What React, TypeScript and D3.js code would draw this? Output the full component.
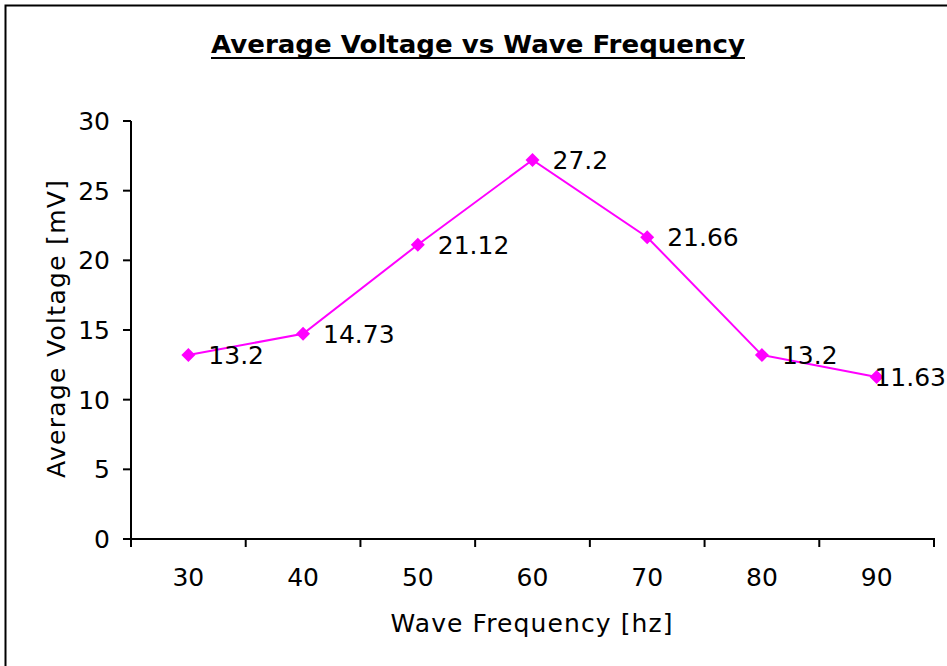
import React from "react";
import * as d3 from "d3";

const categories = ["30", "40", "50", "60", "70", "80", "90"];
const voltages = [13.2, 14.73, 21.12, 27.2, 21.66, 13.2, 11.63];
const dataLabels = ["13.2", "14.73", "21.12", "27.2", "21.66", "13.2", "11.63"];
const yTicks = [0, 5, 10, 15, 20, 25, 30];

const W = 947;
const H = 666;
const FONT = "'DejaVu Sans', Verdana, sans-serif";
const FS = 25;

function estWidth(s: string, fs: number) {
  let w = 0;
  for (const ch of s) w += ch === "." ? 0.318 : 0.636;
  return w * fs;
}

export default function App() {
  const left = 131;
  const right = 934;
  const top = 121;
  const bottom = 539;

  const x = d3.scaleBand<string>().domain(categories).range([left, right]).padding(0);
  const y = d3.scaleLinear().domain([0, 30]).range([bottom, top]);

  const line = d3
    .line<number>()
    .x((_, i) => (x(categories[i]) as number) + x.bandwidth() / 2)
    .y((d) => y(d));

  const boundaries = categories.map((c) => x(c) as number).concat([right]);

  return (
    <svg
      width={W}
      height={H}
      style={{ position: "absolute", left: 0, top: 0, background: "#fff" }}
      fontFamily={FONT}
    >
      <rect x={0} y={0} width={W} height={H} fill="#fff" />
      <rect x={5.5} y={5.5} width={1200} height={1200} fill="none" stroke="#000" strokeWidth={2} />

      <text
        x={478}
        y={53}
        textAnchor="middle"
        fontSize={25}
        fontWeight="bold"
        textLength={534}
        lengthAdjust="spacingAndGlyphs"
      >
        Average Voltage vs Wave Frequency
      </text>
      <line x1={211} x2={745} y1={58} y2={58} stroke="#000" strokeWidth={2} />

      {/* Y axis */}
      <line x1={left} x2={left} y1={top} y2={bottom + 8} stroke="#000" strokeWidth={2} />
      {yTicks.map((t) => (
        <g key={t}>
          <line x1={left - 8} x2={left} y1={y(t)} y2={y(t)} stroke="#000" strokeWidth={2} />
          <text x={110} y={y(t)} dy="0.36em" textAnchor="end" fontSize={FS}>
            {t}
          </text>
        </g>
      ))}

      {/* X axis */}
      <line x1={left - 8} x2={right + 1} y1={bottom} y2={bottom} stroke="#000" strokeWidth={2} />
      {boundaries.map((b, i) => (
        <line key={i} x1={b} x2={b} y1={bottom} y2={bottom + 8} stroke="#000" strokeWidth={2} />
      ))}
      {categories.map((c) => (
        <text key={c} x={(x(c) as number) + x.bandwidth() / 2} y={586} textAnchor="middle" fontSize={FS}>
          {c}
        </text>
      ))}

      <text x={531.5} y={632} textAnchor="middle" fontSize={FS} textLength={282} lengthAdjust="spacing">
        Wave Frequency [hz]
      </text>
      <text
        transform={`translate(65,329) rotate(-90)`}
        textAnchor="middle"
        fontSize={FS}
        textLength={298}
        lengthAdjust="spacing"
      >
        Average Voltage [mV]
      </text>

      {/* Series */}
      <path d={line(voltages) || ""} fill="none" stroke="#FF00FF" strokeWidth={2} />
      {voltages.map((v, i) => {
        const cx = (x(categories[i]) as number) + x.bandwidth() / 2;
        const cy = y(v);
        const r = 7;
        const wLab = estWidth(dataLabels[i], FS);
        let lx = cx + 20;
        if (lx + wLab > 946) lx = 946 - wLab;
        return (
          <g key={i}>
            <path
              d={`M${cx},${cy - r}L${cx + r},${cy}L${cx},${cy + r}L${cx - r},${cy}Z`}
              fill="#FF00FF"
            />
            <text x={lx} y={cy} dy="0.36em" fontSize={FS}>
              {dataLabels[i]}
            </text>
          </g>
        );
      })}
    </svg>
  );
}
